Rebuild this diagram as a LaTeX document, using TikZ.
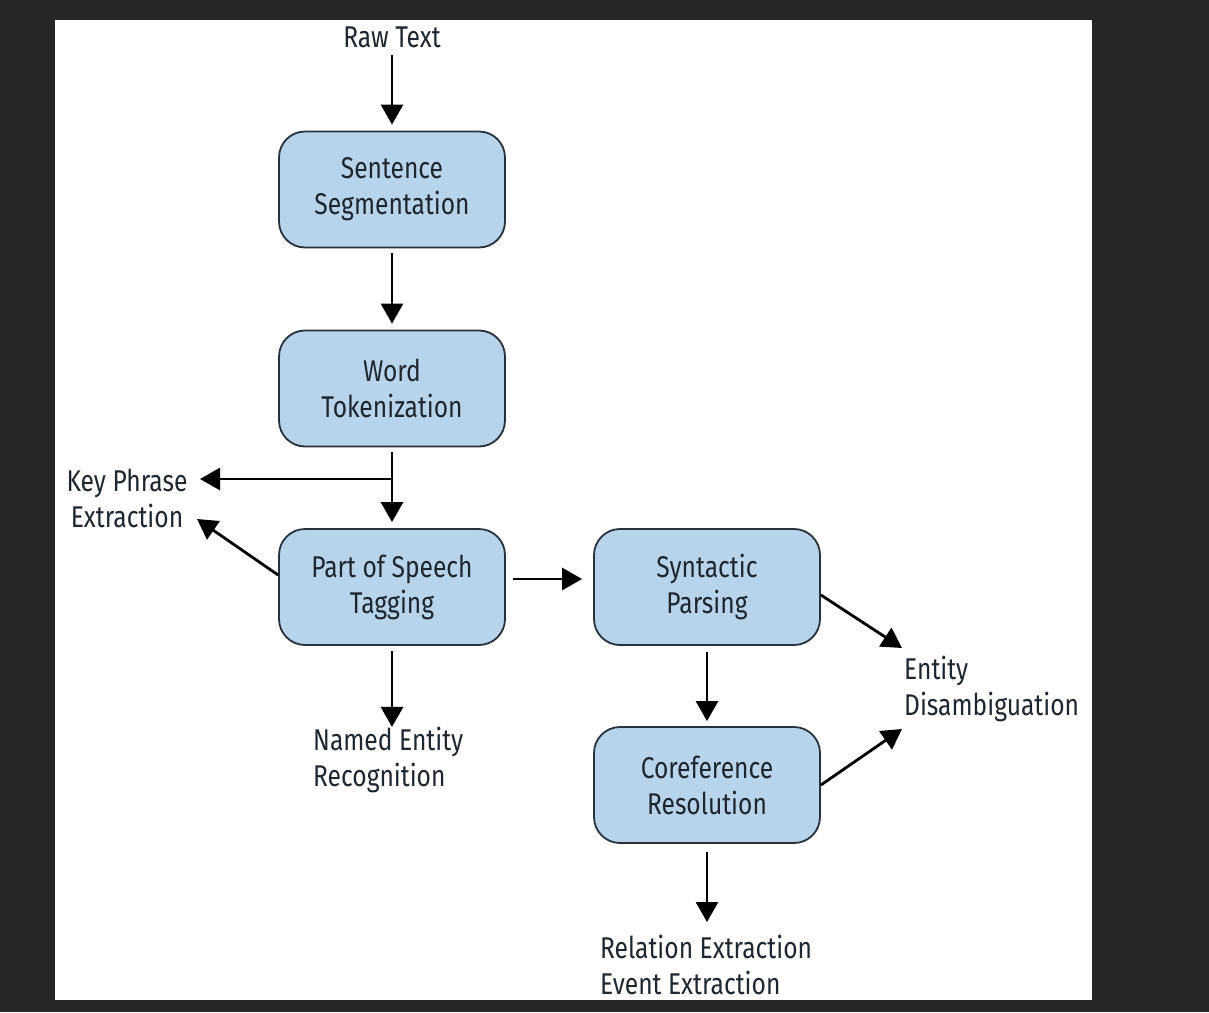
\documentclass[tikz,border=0pt]{standalone}
\usepackage{fontspec}
\setmainfont[FakeStretch=0.82]{Fira Sans}
\usetikzlibrary{arrows.meta}
\definecolor{bgdark}{HTML}{262626}
\definecolor{boxfill}{HTML}{B7D4EB}
\definecolor{boxline}{HTML}{26323D}
\definecolor{txt}{HTML}{1E2630}
\tikzset{
  stage/.style={draw=boxline, line width=1.8pt, fill=boxfill, rounded corners=26pt,
    minimum width=226pt, minimum height=116pt, align=center, text=txt,
    font=\fontsize{30}{36}\selectfont, inner sep=0pt},
  lbl/.style={text=txt, font=\fontsize{30}{36}\selectfont, inner sep=0pt},
  arr/.style={line width=2.8pt, -{Triangle[width=22pt,length=20pt]}, black},
}
\begin{document}
\begin{tikzpicture}[x=1pt,y=-1pt]
\fill[bgdark] (0,0) rectangle (1209,1012);
\useasboundingbox (0,0) rectangle (1209,1012);
\fill[white] (55,20) rectangle (1092,1000);

\node[stage] (ss) at (392,189.5) {Sentence\\Segmentation};
\node[stage] (wt) at (392,388.5) {Word\\Tokenization};
\node[stage] (pos) at (392,587) {Part of Speech\\Tagging};
\node[stage] (sp) at (707,587) {Syntactic\\Parsing};
\node[stage] (cr) at (707,785) {Coreference\\Resolution};

\node[lbl] (raw) at (392,37) {Raw Text};
\node[lbl, align=center] (kp) at (127,498) {Key Phrase\\Extraction};
\node[lbl, align=left, anchor=west] (ner) at (313,760) {Named Entity\\Recognition};
\node[lbl, align=left, anchor=west] (ed) at (904,689) {Entity\\Disambiguation};
\node[lbl, align=left, anchor=west] (rel) at (600,965) {Relation Extraction\\Event Extraction};

\coordinate (rawtop) at (392,55);
\coordinate (br) at (392,479);
\coordinate (kpend) at (200,479);

\draw[arr] (rawtop) -- ([yshift=6pt]ss.north);
\draw[arr] ([yshift=-5pt]ss.south) -- ([yshift=6pt]wt.north);
\draw[arr] ([yshift=-5pt]wt.south) -- ([yshift=6pt]pos.north);
\draw[arr] (br) -- (kpend);
\draw[arr] ([yshift=12pt]pos.west) -- (197,519);
\draw[arr] ([xshift=7pt,yshift=8pt]pos.east) -- ([xshift=-11pt,yshift=8pt]sp.west);
\draw[arr] ([yshift=-5pt]pos.south) -- (ner.north -| pos.south);
\draw[arr] ([yshift=-6pt]sp.south) -- ([yshift=5pt]cr.north);
\draw[arr] ([yshift=-8pt]sp.east) -- (902,648);
\draw[arr] (cr.east) -- (902,729);
\draw[arr] ([yshift=-8pt]cr.south) -- (707,922);
\end{tikzpicture}
\end{document}
